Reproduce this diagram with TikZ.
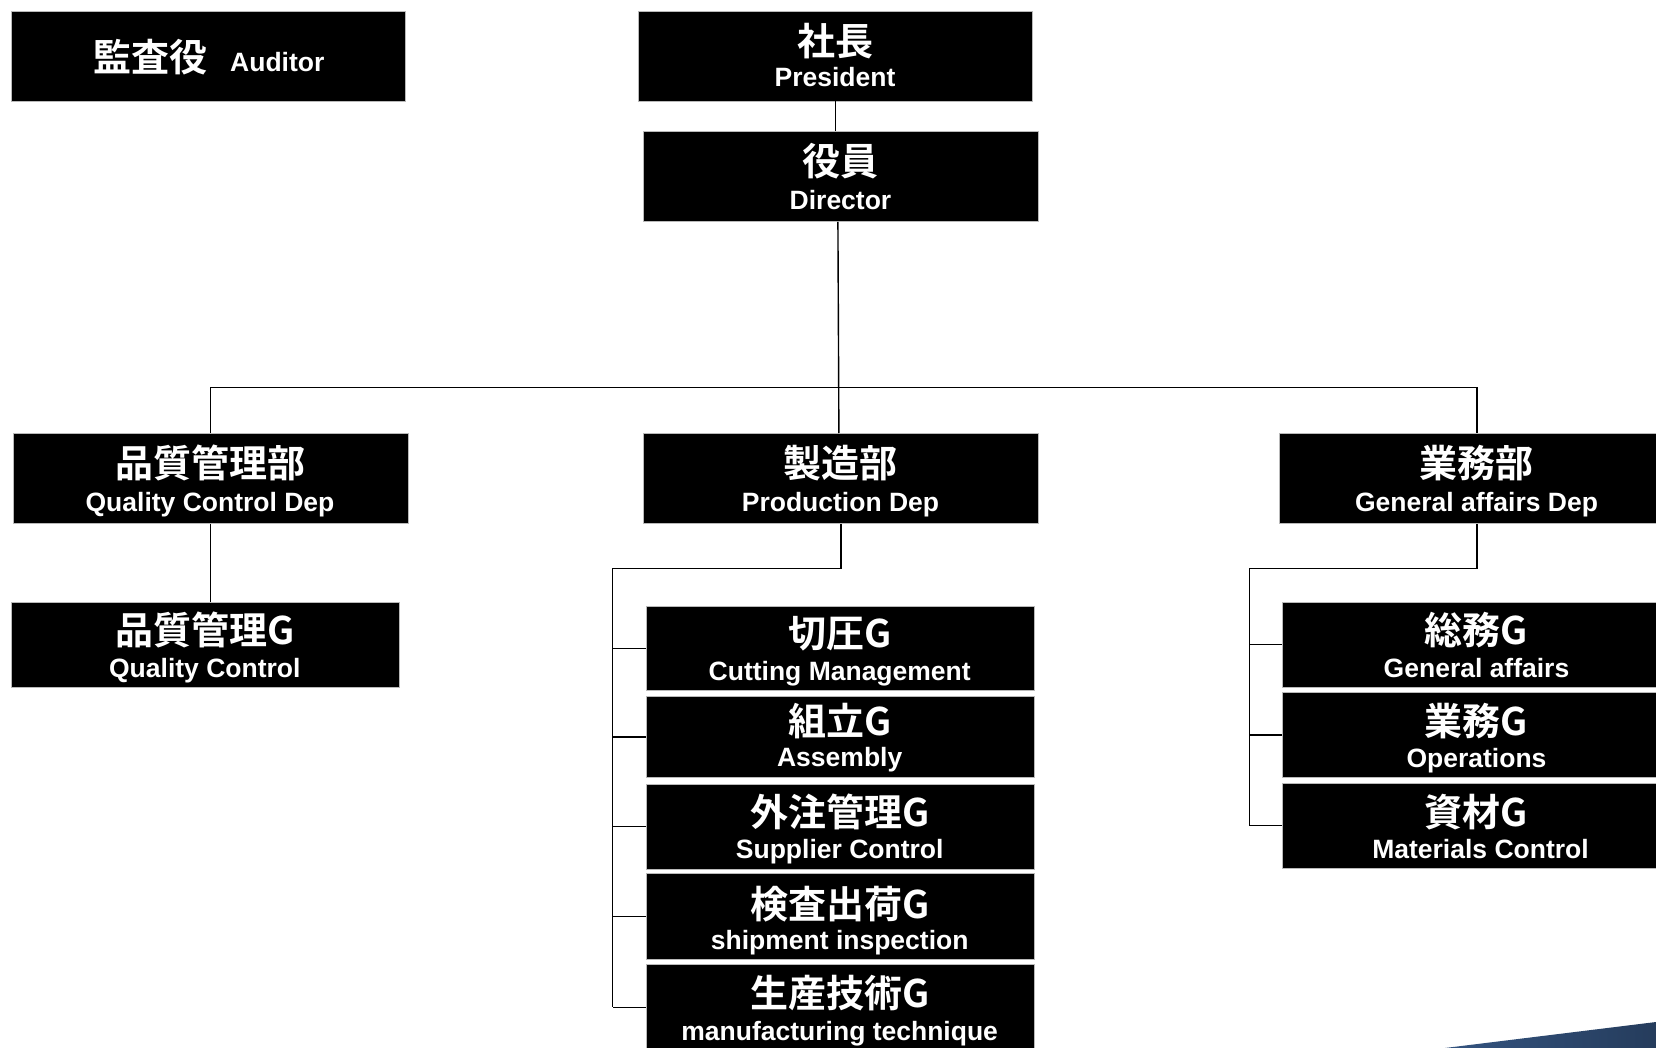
\documentclass[tikz,border=0pt]{standalone}
\usepackage{fontspec}
\newfontfamily\jpf{Noto Sans CJK JP Bold}
\newfontfamily\enf{Liberation Sans}
\tikzset{
  orgbox/.style={rectangle, fill=black, draw=gray!55, line width=0.8pt, inner sep=0pt, anchor=north west},
  jp/.style={text=white, inner sep=0pt, font=\jpf\fontsize{38}{42}\selectfont, text height=33pt, text depth=5pt},
  en/.style={text=white, inner sep=0pt, font=\enf\bfseries\fontsize{26.5}{30}\selectfont, text height=19pt, text depth=0pt},
  link/.style={draw=black, line width=1.4pt}
}
\begin{document}
\begin{tikzpicture}[x=1pt,y=-1pt]
\useasboundingbox (0,0) rectangle (1656,1048);
\clip (0,0) rectangle (1656,1048);
\fill[white] (0,0) rectangle (1656,1048);

% wedge
\shade[left color={rgb,255:red,52;green,84;blue,128}, right color={rgb,255:red,37;green,60;blue,92}]
  (1445,1048) -- (1656,1022) -- (1656,1048) -- cycle;

% Auditor
\node[orgbox, minimum width=394, minimum height=90] (aud) at (10.6,10.6) {};
\node[jp, anchor=west] (audJ) at (93,58) {監査役};
\node[en, anchor=west] (audE) at (230,62) {Auditor};

% President
\node[orgbox, minimum width=394, minimum height=90] (pres) at (638,10.6) {};
\node[jp] (presJ) at (835,42) {社長};
\node[en] (presE) at (835,77) {President};

% Director
\node[orgbox, minimum width=395, minimum height=90] (dir) at (643,131) {};
\node[jp] (dirJ) at (840.5,161.6) {役員};
\node[en] (dirE) at (840.5,199.6) {Director};

% Departments
\node[orgbox, minimum width=395, minimum height=90] (qcd) at (12.7,433) {};
\node[jp] (qcdJ) at (210,463.6) {品質管理部};
\node[en] (qcdE) at (210,501.6) {Quality Control Dep};

\node[orgbox, minimum width=395, minimum height=90] (prodd) at (643,433) {};
\node[jp] (proddJ) at (840.5,463.6) {製造部};
\node[en] (proddE) at (840.5,501.6) {Production Dep};

\node[orgbox, minimum width=395, minimum height=90] (gad) at (1279,433) {};
\node[jp] (gadJ) at (1476.5,463.6) {業務部};
\node[en] (gadE) at (1476.5,501.6) {General affairs Dep};

% QC group
\node[orgbox, minimum width=388.5, minimum height=84.5] (qcg) at (10.6,602) {};
\node[jp] (qcgJ) at (204.8,630.5) {品質管理G};
\node[en] (qcgE) at (204.8,667.5) {Quality Control};

% Production groups
\node[orgbox, minimum width=388, minimum height=84.5] (pg1) at (645.7,605.7) {};
\node[jp] (pg1J) at (839.7,633.6) {切圧G};
\node[en] (pg1E) at (839.7,670.6) {Cutting Management};

\node[orgbox, minimum width=388, minimum height=81.5] (pg2) at (645.7,695.7) {};
\node[jp] (pg2J) at (839.7,721) {組立G};
\node[en] (pg2E) at (839.7,757) {Assembly};

\node[orgbox, minimum width=388, minimum height=85] (pg3) at (645.7,783.5) {};
\node[jp] (pg3J) at (839.7,812) {外注管理G};
\node[en] (pg3E) at (839.7,849) {Supplier Control};

\node[orgbox, minimum width=388, minimum height=86] (pg4) at (645.7,873) {};
\node[jp] (pg4J) at (839.7,904) {検査出荷G};
\node[en] (pg4E) at (839.7,940) {shipment inspection};

\node[orgbox, minimum width=388, minimum height=86] (pg5) at (645.7,964) {};
\node[jp] (pg5J) at (839.7,993) {生産技術G};
\node[en] (pg5E) at (839.7,1031) {manufacturing technique};

% General affairs groups
\node[orgbox, minimum width=392, minimum height=84.5] (gg1) at (1282,602) {};
\node[jp] (gg1J) at (1476.5,630.5) {総務G};
\node[en] (gg1E) at (1476.5,667.5) {General affairs};

\node[orgbox, minimum width=392, minimum height=85] (gg2) at (1282,692) {};
\node[jp] (gg2J) at (1476.5,721) {業務G};
\node[en] (gg2E) at (1476.5,758) {Operations};

\node[orgbox, minimum width=392, minimum height=85.4] (gg3) at (1282,782.6) {};
\node[jp] (gg3J) at (1476.5,812) {資材G};
\node[en] (gg3E) at (1480.5,849) {Materials Control};

% Connectors
\coordinate (bus) at (0,387.6);
\draw[link] (pres.south) -- (pres.south |- dir.north);
\draw[link] ([xshift=-3pt]dir.south) -- ([xshift=-2pt]prodd.north);
\draw[link] (qcd.north) |- (bus -| gad.north) -- (gad.north);
\draw[link] (qcd.south) -- (qcd.south |- qcg.north);

\coordinate (pj) at (612.7,568.5);
\draw[link] (prodd.south) |- (pj) -- (pj |- pg5.west);
\foreach \g in {pg1,pg2,pg3,pg4,pg5}
  \draw[link] (\g.west) -- (\g.west -| pj);

\coordinate (gj) at (1249.4,568.5);
\draw[link] (gad.south) |- (gj) -- (gj |- gg3.west);
\foreach \g in {gg1,gg2,gg3}
  \draw[link] (\g.west) -- (\g.west -| gj);
\end{tikzpicture}
\end{document}
